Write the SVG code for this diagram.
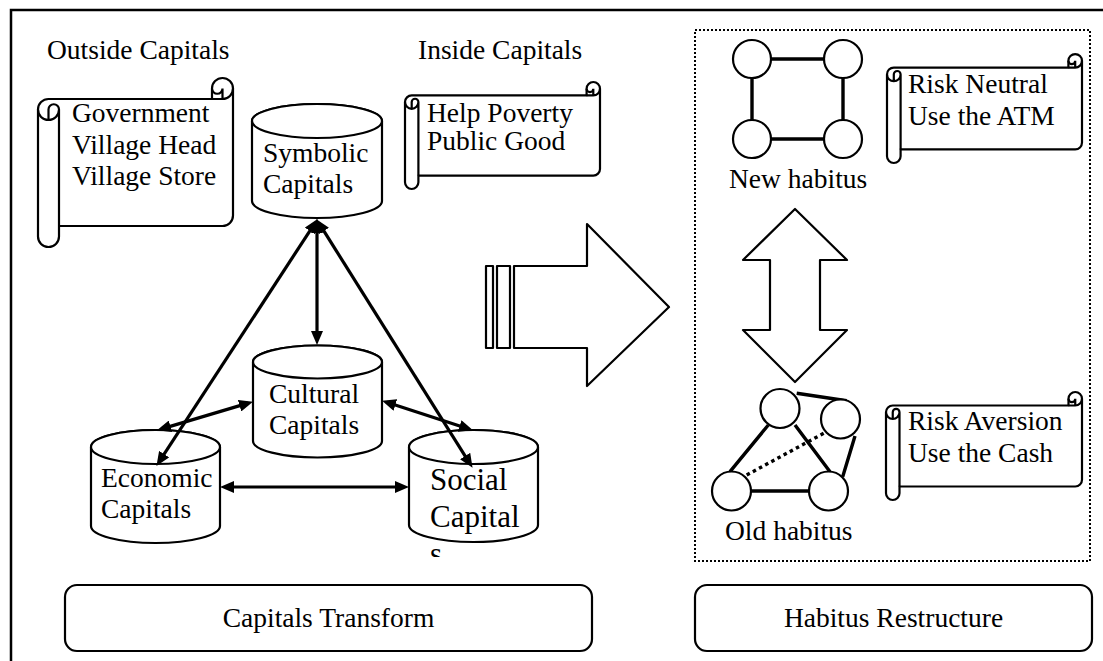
<svg xmlns="http://www.w3.org/2000/svg" width="1103" height="661" viewBox="0 0 1103 661">
<style>
.t{font-family:'Liberation Serif','Times New Roman',Tinos,'DejaVu Serif',serif;font-size:27.5px;fill:#000}
.shape{fill:#fff;stroke:#000;stroke-width:2.2;stroke-linejoin:round}
.ln{fill:none;stroke:#000;stroke-width:2.2}
.conn{fill:none;stroke:#000;stroke-width:3.2}
.hab{fill:none;stroke:#000;stroke-width:3.4}
.circ{fill:#fff;stroke:#000;stroke-width:2.2}
</style>
<defs>
<marker id="ah" markerUnits="userSpaceOnUse" markerWidth="14" markerHeight="12" refX="9" refY="6" orient="auto-start-reverse">
<path d="M0,0 L14,6 L0,12 z" fill="#000"/>
</marker>
<clipPath id="socclip"><rect x="400" y="420" width="150" height="137"/></clipPath>
</defs>
<rect x="0" y="0" width="1103" height="661" fill="#fff"/>
<path d="M11,661 L11,10 L1103,10" fill="none" stroke="#000" stroke-width="2.5"/>

<g class="t" font-family="Liberation Serif, serif">
<g id="outside-title"><text x="47" y="59">Outside Capitals</text></g>
<g id="inside-title"><text x="418" y="59">Inside Capitals</text></g>
</g>

<g id="scroll-outside">
<path class="shape" d="M38,109.5 A10.5,10.5 0 0 1 48.5,99 L212,99 L212,88.5 A10.5,10.5 0 0 1 233,88.5 L233,215.5 A10.5,10.5 0 0 1 222.5,226 L59,226 L59,236.5 A10.5,10.5 0 0 1 38,236.5 Z"/>
<path class="ln" d="M212,99 L222.5,99 A10.5,10.5 0 0 0 233,88.5 M222.5,99 L222.5,88.5 A5.25,5.25 0 0 1 212,88.5 M48.5,120 L48.5,109.5 A5.25,5.25 0 0 1 59,109.5 A10.5,10.5 0 0 1 38,109.5 M59,109.5 L59,226"/>
<g class="t" font-family="Liberation Serif, serif">
<text x="72" y="122">Government</text>
<text x="72" y="153.5">Village Head</text>
<text x="72" y="185">Village Store</text>
</g>
</g>

<g id="scroll-inside">
<path class="shape" d="M405,102.1 A6.7,6.7 0 0 1 411.7,95.4 L586.6,95.4 L586.6,88.7 A6.7,6.7 0 0 1 600,88.7 L600,168.9 A6.7,6.7 0 0 1 593.3,175.6 L418.4,175.6 L418.4,182.3 A6.7,6.7 0 0 1 405,182.3 Z"/>
<path class="ln" d="M586.6,95.4 L593.3,95.4 A6.7,6.7 0 0 0 600,88.7 M593.3,95.4 L593.3,88.7 A3.35,3.35 0 0 1 586.6,88.7 M411.7,108.8 L411.7,102.1 A3.35,3.35 0 0 1 418.4,102.1 A6.7,6.7 0 0 1 405,102.1 M418.4,102.1 L418.4,175.6"/>
<g class="t" font-family="Liberation Serif, serif">
<text x="427" y="121.5">Help Poverty</text>
<text x="427" y="150">Public Good</text>
</g>
</g>

<g id="symbolic">
<path class="shape" d="M252,121 L252,201 A65,17 0 0 0 382,201 L382,121 A65,17 0 0 0 252,121 Z"/>
<ellipse class="shape" cx="317" cy="121" rx="65" ry="17"/>
<g class="t" font-family="Liberation Serif, serif">
<text x="263" y="162">Symbolic</text>
<text x="263" y="193">Capitals</text>
</g>
</g>

<g id="cultural">
<path class="shape" d="M253,362 L253,441 A64.5,16.5 0 0 0 382,441 L382,362 A64.5,16.5 0 0 0 253,362 Z"/>
<ellipse class="shape" cx="317.5" cy="362" rx="64.5" ry="16.5"/>
<g class="t" font-family="Liberation Serif, serif">
<text x="269" y="403">Cultural</text>
<text x="269" y="434">Capitals</text>
</g>
</g>

<g id="economic">
<path class="shape" d="M91,447 L91,526 A64.5,17 0 0 0 220,526 L220,447 A64.5,17 0 0 0 91,447 Z"/>
<ellipse class="shape" cx="155.5" cy="447" rx="64.5" ry="17"/>
<g class="t" font-family="Liberation Serif, serif">
<text x="101" y="487">Economic</text>
<text x="101" y="518">Capitals</text>
</g>
</g>

<g id="social">
<path class="shape" d="M409,447 L409,525 A64.5,17 0 0 0 538,525 L538,447 A64.5,17 0 0 0 409,447 Z"/>
<ellipse class="shape" cx="473.5" cy="447" rx="64.5" ry="17"/>
<g clip-path="url(#socclip)" class="t" font-family="Liberation Serif, serif" font-size="31">
<text x="430" y="490" style="font-size:31px">Social</text>
<text x="430" y="527" style="font-size:31px">Capital</text>
<text x="430" y="564" style="font-size:31px">s</text>
</g>
</g>

<g id="connectors">
<line class="conn" x1="314.8" y1="223.3" x2="159.2" y2="461.7" marker-start="url(#ah)" marker-end="url(#ah)"/>
<line class="conn" x1="319.1" y1="223.4" x2="469.9" y2="463.6" marker-start="url(#ah)" marker-end="url(#ah)"/>
<line class="conn" x1="317" y1="224" x2="317" y2="340" marker-start="url(#ah)" marker-end="url(#ah)"/>
<line class="conn" x1="161.8" y1="428.9" x2="248.2" y2="403.1" marker-start="url(#ah)" marker-end="url(#ah)"/>
<line class="conn" x1="386.8" y1="402.2" x2="468.2" y2="428.8" marker-start="url(#ah)" marker-end="url(#ah)"/>
<line class="conn" x1="225" y1="487" x2="404" y2="487" marker-start="url(#ah)" marker-end="url(#ah)"/>
</g>

<g id="transform-arrow">
<rect class="shape" x="486" y="266" width="7" height="82"/>
<rect class="shape" x="497" y="266" width="13" height="82"/>
<path class="shape" d="M514,266 L587,266 L587,224 L669,307 L587,386 L587,348 L514,348 Z"/>
</g>

<g id="habitus-frame">
<rect x="695" y="30" width="395" height="531" fill="none" stroke="#000" stroke-width="2" stroke-dasharray="2 2"/>
</g>

<g id="new-habitus">
<path class="hab" d="M752,59 L843,59 M752,139 L843,139 M752,59 L752,139 M843,59 L843,139"/>
<circle class="circ" cx="752" cy="59" r="19"/>
<circle class="circ" cx="843" cy="59" r="19"/>
<circle class="circ" cx="752" cy="139" r="19"/>
<circle class="circ" cx="843" cy="139" r="19"/>
<text class="t" font-family="Liberation Serif, serif" x="729" y="188">New habitus</text>
</g>

<g id="scroll-neutral">
<path class="shape" d="M887,74.4 A6.8,6.8 0 0 1 893.8,67.6 L1068.4,67.6 L1068.4,60.8 A6.8,6.8 0 0 1 1082,60.8 L1082,142.6 A6.8,6.8 0 0 1 1075.2,149.4 L900.6,149.4 L900.6,156.2 A6.8,6.8 0 0 1 887,156.2 Z"/>
<path class="ln" d="M1068.4,67.6 L1075.2,67.6 A6.8,6.8 0 0 0 1082,60.8 M1075.2,67.6 L1075.2,60.8 A3.4,3.4 0 0 1 1068.4,60.8 M893.8,81.2 L893.8,74.4 A3.4,3.4 0 0 1 900.6,74.4 A6.8,6.8 0 0 1 887,74.4 M900.6,74.4 L900.6,149.4"/>
<g class="t" font-family="Liberation Serif, serif">
<text x="908" y="92.5">Risk Neutral</text>
<text x="908" y="125">Use the ATM</text>
</g>
</g>

<g id="updown-arrow">
<path class="shape" d="M795,209 L847,260 L820,260 L820,330 L847,330 L795,382 L743,330 L770,330 L770,260 L743,260 Z"/>
</g>

<g id="old-habitus">
<path class="hab" d="M796.7,393.3 L846.7,400.7 M768.3,425 L730,471.7 M795,425 L830,471.7 M855,436 L842.7,476.7 M751,491 L809,491"/>
<path fill="none" stroke="#000" stroke-width="3.4" stroke-dasharray="3.5 3.5" d="M746.7,475 L826.7,431.7"/>
<circle class="circ" cx="780" cy="408.5" r="19.5"/>
<circle class="circ" cx="840.5" cy="419" r="19.5"/>
<circle class="circ" cx="731.5" cy="491" r="19.5"/>
<circle class="circ" cx="828.5" cy="491" r="19.5"/>
<text class="t" font-family="Liberation Serif, serif" x="725" y="540">Old habitus</text>
</g>

<g id="scroll-aversion">
<path class="shape" d="M886,412.25 A6.75,6.75 0 0 1 892.75,405.5 L1068.5,405.5 L1068.5,398.75 A6.75,6.75 0 0 1 1082,398.75 L1082,479.75 A6.75,6.75 0 0 1 1075.25,486.5 L899.5,486.5 L899.5,493.25 A6.75,6.75 0 0 1 886,493.25 Z"/>
<path class="ln" d="M1068.5,405.5 L1075.25,405.5 A6.75,6.75 0 0 0 1082,398.75 M1075.25,405.5 L1075.25,398.75 A3.375,3.375 0 0 1 1068.5,398.75 M892.75,419 L892.75,412.25 A3.375,3.375 0 0 1 899.5,412.25 A6.75,6.75 0 0 1 886,412.25 M899.5,412.25 L899.5,486.5"/>
<g class="t" font-family="Liberation Serif, serif">
<text x="908" y="430">Risk Aversion</text>
<text x="908" y="462">Use the Cash</text>
</g>
</g>

<g id="capitals-transform">
<rect class="shape" x="65" y="585" width="527" height="66" rx="12" ry="12"/>
<text class="t" font-family="Liberation Serif, serif" x="328.5" y="627" text-anchor="middle">Capitals Transform</text>
</g>

<g id="habitus-restructure">
<rect class="shape" x="695" y="585" width="397" height="66" rx="12" ry="12"/>
<text class="t" font-family="Liberation Serif, serif" x="893.5" y="627" text-anchor="middle">Habitus Restructure</text>
</g>
</svg>
